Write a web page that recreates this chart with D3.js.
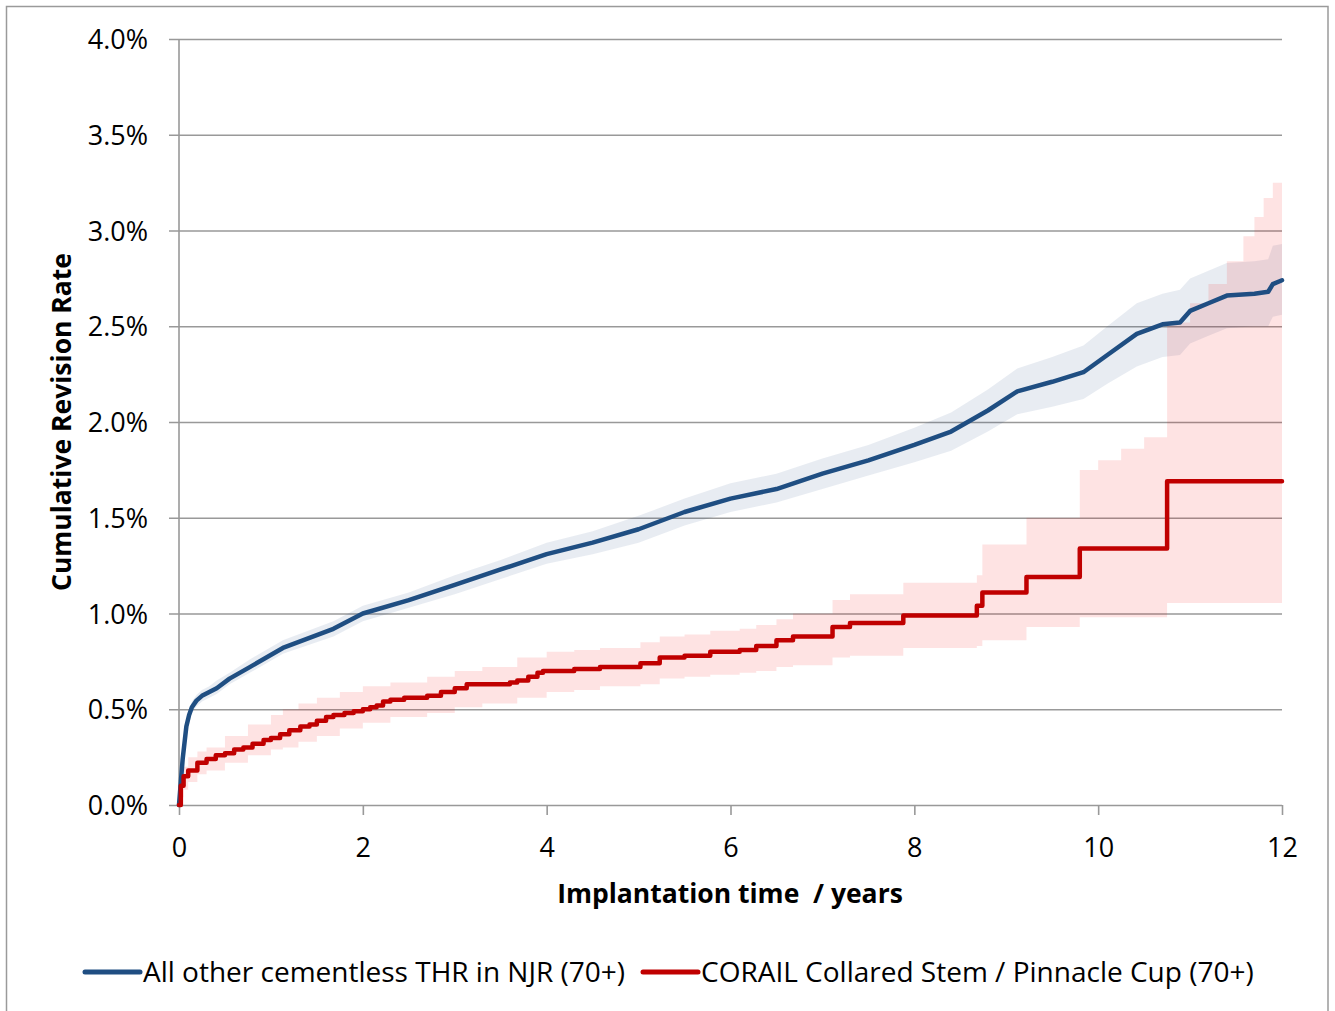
<!DOCTYPE html>
<html>
<head>
<meta charset="utf-8">
<script src="https://cdn.jsdelivr.net/npm/d3@7"></script>
<style>
  html, body { margin: 0; padding: 0; background: #fff; }
  svg { display: block; font-family: "Open Sans", "Noto Sans", sans-serif; }
</style>
</head>
<body>
<svg id="chart" width="1335" height="1011"></svg>
<script>
// ---------------- data ----------------
const yTicks = [0, 0.5, 1.0, 1.5, 2.0, 2.5, 3.0, 3.5, 4.0];
const xTicks = [0, 2, 4, 6, 8, 10, 12];
const seriesNames = ["All other cementless THR in NJR (70+)", "CORAIL Collared Stem / Pinnacle Cup (70+)"];

// All other cementless THR (blue): time (years), cumulative revision (%)
const blueT  = [0, 0.02, 0.04, 0.08, 0.11, 0.14, 0.19, 0.25, 0.33, 0.41, 0.55, 0.77, 1.13, 1.68, 2.0, 2.5, 3.0, 3.5, 4.0, 4.5, 5.0, 5.5, 6.0, 6.5, 7.0, 7.5, 8.0, 8.4, 8.8, 9.12, 9.5, 9.84, 10.1, 10.42, 10.7, 10.89, 11.0, 11.2, 11.4, 11.7, 11.85, 11.9, 12.0];
const blueV  = [0, 0.12, 0.24, 0.41, 0.47, 0.51, 0.545, 0.57, 0.59, 0.61, 0.66, 0.72, 0.82, 0.92, 1.0, 1.07, 1.15, 1.23, 1.31, 1.37, 1.44, 1.53, 1.60, 1.65, 1.73, 1.80, 1.88, 1.95, 2.06, 2.16, 2.21, 2.26, 2.35, 2.46, 2.51, 2.52, 2.58, 2.62, 2.66, 2.67, 2.68, 2.72, 2.74];
const blueLo = [0, 0.10, 0.21, 0.38, 0.44, 0.48, 0.515, 0.54, 0.56, 0.58, 0.63, 0.69, 0.79, 0.88, 0.96, 1.03, 1.10, 1.18, 1.26, 1.31, 1.37, 1.46, 1.53, 1.58, 1.65, 1.72, 1.79, 1.85, 1.95, 2.04, 2.08, 2.12, 2.20, 2.29, 2.34, 2.35, 2.41, 2.45, 2.49, 2.50, 2.50, 2.55, 2.56];
const blueHi = [0, 0.14, 0.27, 0.44, 0.50, 0.54, 0.575, 0.60, 0.62, 0.65, 0.69, 0.76, 0.86, 0.96, 1.04, 1.11, 1.20, 1.28, 1.37, 1.43, 1.51, 1.60, 1.68, 1.73, 1.81, 1.88, 1.97, 2.05, 2.17, 2.28, 2.34, 2.40, 2.50, 2.62, 2.67, 2.69, 2.75, 2.79, 2.83, 2.84, 2.85, 2.92, 2.93];

// CORAIL Collared Stem / Pinnacle Cup (red): step curve
const redT = [0, 0.02, 0.05, 0.1, 0.2, 0.3, 0.4, 0.5, 0.6, 0.7, 0.8, 0.92, 1.0, 1.1, 1.2, 1.32, 1.42, 1.5, 1.6, 1.68, 1.8, 1.9, 2.0, 2.08, 2.15, 2.22, 2.3, 2.45, 2.7, 2.85, 3.0, 3.13, 3.6, 3.68, 3.8, 3.9, 3.96, 4.3, 4.58, 5.02, 5.23, 5.5, 5.78, 6.1, 6.28, 6.5, 6.68, 7.11, 7.3, 7.88, 8.68, 8.74, 9.22, 9.8, 10.75, 12.0];
const redV = [0, 0.10, 0.15, 0.18, 0.22, 0.24, 0.26, 0.27, 0.29, 0.30, 0.32, 0.34, 0.35, 0.37, 0.39, 0.41, 0.42, 0.44, 0.46, 0.47, 0.48, 0.49, 0.50, 0.51, 0.52, 0.54, 0.55, 0.56, 0.57, 0.59, 0.61, 0.63, 0.64, 0.65, 0.67, 0.69, 0.70, 0.71, 0.72, 0.74, 0.77, 0.78, 0.80, 0.81, 0.83, 0.86, 0.88, 0.93, 0.95, 0.99, 1.04, 1.11, 1.19, 1.34, 1.69, 1.69];

// red confidence band
const redBandT = [0, 0.02, 0.05, 0.1, 0.2, 0.3, 0.5, 0.75, 1.0, 1.13, 1.3, 1.5, 1.75, 2.0, 2.3, 2.7, 3.0, 3.3, 3.68, 4.0, 4.3, 4.58, 5.02, 5.23, 5.5, 5.78, 6.1, 6.28, 6.5, 6.68, 7.11, 7.3, 7.88, 8.68, 8.74, 9.22, 9.8, 10.0, 10.25, 10.5, 10.75, 11.0, 11.2, 11.4, 11.58, 11.7, 11.8, 11.9, 12.0];
const redLo = [0, 0.04, 0.08, 0.12, 0.16, 0.18, 0.22, 0.26, 0.29, 0.30, 0.33, 0.36, 0.40, 0.43, 0.46, 0.48, 0.51, 0.53, 0.56, 0.59, 0.60, 0.62, 0.63, 0.66, 0.67, 0.68, 0.69, 0.70, 0.72, 0.73, 0.77, 0.78, 0.82, 0.83, 0.86, 0.93, 0.98, 0.98, 0.98, 0.98, 1.055, 1.055, 1.055, 1.055, 1.055, 1.055, 1.055, 1.055, 1.055];
const redHi = [0, 0.12, 0.20, 0.25, 0.28, 0.30, 0.36, 0.42, 0.47, 0.50, 0.53, 0.56, 0.59, 0.62, 0.64, 0.67, 0.70, 0.72, 0.77, 0.80, 0.81, 0.82, 0.85, 0.88, 0.89, 0.91, 0.92, 0.94, 0.97, 1.00, 1.07, 1.10, 1.16, 1.20, 1.36, 1.50, 1.75, 1.80, 1.86, 1.92, 2.52, 2.62, 2.72, 2.84, 2.97, 3.07, 3.17, 3.25, 3.29];

// ---------------- chart ----------------
const svg = d3.select("#chart");
const mLeft = 179, mRight = 1282, mTop = 39, mBottom = 805;
const x = d3.scaleLinear().domain([0, 12]).range([mLeft, mRight]);
const y = d3.scaleLinear().domain([0, 4]).range([mBottom, mTop]);
const gridColor = "#999999";
const blue = "#1F4E82", red = "#C00000";

// outer frame
svg.append("rect").attr("x", 6.5).attr("y", 6.5).attr("width", 1321.5).attr("height", 1020)
  .attr("fill", "none").attr("stroke", "#9a9a9a").attr("stroke-width", 1.5);

// horizontal gridlines (extend left as tick marks)
const yAxis = d3.axisLeft(y).tickValues(yTicks).tickSize(-(mRight - mLeft)).tickSizeOuter(0)
  .tickFormat(d => d3.format(".1f")(d) + "%");
const gy = svg.append("g").attr("transform", `translate(${mLeft},0)`).call(yAxis);
gy.select(".domain").remove();
gy.selectAll(".tick line").attr("stroke", gridColor).attr("stroke-width", 1.6).attr("x1", -10);
gy.selectAll(".tick text").attr("x", -31).attr("dy", "0.36em").attr("fill", "#000")
  .style("font-size", "27px").style("font-family", "'Open Sans', sans-serif");

// x axis
const xAxis = d3.axisBottom(x).tickValues(xTicks).tickSize(10).tickSizeOuter(0).tickFormat(d3.format("d"));
const gx = svg.append("g").attr("transform", `translate(0,${mBottom})`).call(xAxis);
gx.select(".domain").remove();
gx.selectAll(".tick line").attr("stroke", gridColor).attr("stroke-width", 1.6);
gx.selectAll(".tick text").attr("y", 52).attr("dy", "0").attr("fill", "#000")
  .style("font-size", "27px").style("font-family", "'Open Sans', sans-serif");

// vertical axis line
svg.append("line").attr("x1", mLeft).attr("x2", mLeft).attr("y1", mTop).attr("y2", mBottom)
  .attr("stroke", gridColor).attr("stroke-width", 1.6);

// bands
const blueData = blueT.map((t, i) => ({ t, v: blueV[i], lo: blueLo[i], hi: blueHi[i] }));
const redData = redT.map((t, i) => ({ t, v: redV[i] }));
const redBand = redBandT.map((t, i) => ({ t, lo: redLo[i], hi: redHi[i] }));

svg.append("path").datum(blueData)
  .attr("d", d3.area().x(d => x(d.t)).y0(d => y(d.lo)).y1(d => y(d.hi)).curve(d3.curveLinear))
  .attr("fill", "rgb(31,73,125)").attr("fill-opacity", 0.1);

svg.append("path").datum(redBand)
  .attr("d", d3.area().x(d => x(d.t)).y0(d => y(d.lo)).y1(d => y(d.hi)).curve(d3.curveStepAfter))
  .attr("fill", "rgb(245,0,0)").attr("fill-opacity", 0.11);

// lines
svg.append("path").datum(blueData)
  .attr("d", d3.line().x(d => x(d.t)).y(d => y(d.v)).curve(d3.curveLinear))
  .attr("fill", "none").attr("stroke", blue).attr("stroke-width", 4.5)
  .attr("stroke-linejoin", "round").attr("stroke-linecap", "round");

svg.append("path").datum(redData)
  .attr("d", d3.line().x(d => x(d.t)).y(d => y(d.v)).curve(d3.curveStepAfter))
  .attr("fill", "none").attr("stroke", red).attr("stroke-width", 4.5)
  .attr("stroke-linejoin", "round").attr("stroke-linecap", "round");

// axis titles
svg.append("text").attr("x", 730).attr("y", 903).attr("text-anchor", "middle")
  .style("font-size", "26.5px").style("font-weight", "bold").style("white-space", "pre")
  .text("Implantation time  / years");

svg.append("text").attr("transform", `translate(71,${(mTop + mBottom) / 2}) rotate(-90)`)
  .attr("text-anchor", "middle").style("font-size", "26.5px").style("font-weight", "bold")
  .text("Cumulative Revision Rate");

// legend
const legend = svg.append("g");
const legendItems = [{ name: seriesNames[0], color: blue, x0: 85 }, { name: seriesNames[1], color: red, x0: 643 }];
legendItems.forEach(it => {
  legend.append("line").attr("x1", it.x0).attr("x2", it.x0 + 55).attr("y1", 972).attr("y2", 972)
    .attr("stroke", it.color).attr("stroke-width", 5).attr("stroke-linecap", "round");
  legend.append("text").attr("x", it.x0 + 58).attr("y", 982).style("font-size", "28px").text(it.name);
});
</script>
</body>
</html>
